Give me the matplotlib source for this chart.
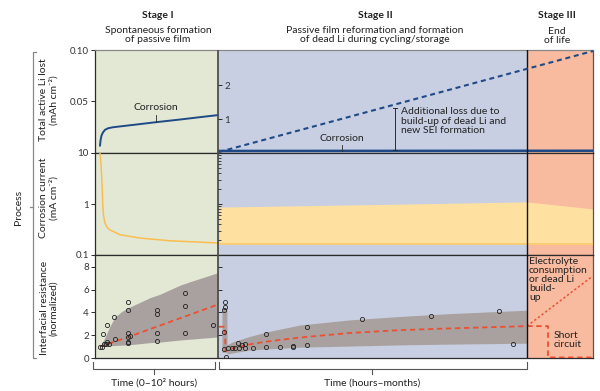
import matplotlib
matplotlib.use("Agg")
import matplotlib.pyplot as plt
from matplotlib.lines import Line2D
from matplotlib.ticker import LogLocator, NullLocator, NullFormatter, FixedLocator
import numpy as np

plt.rcParams['font.family'] = ['Lato', 'DejaVu Sans']

# ---------------- data (time in arbitrary units; stage I 0-123, II 123-432, III 432-498)
stage_edges = [0, 123, 432, 498]
stage_colors = ['#e2e8d4', '#c8cfe2', '#f9bba0']

# top row: total active Li lost (mAh cm-2)
corr1_t = [5, 5.5, 6.5, 8, 10, 13, 18, 25, 40, 60, 85, 105, 123]
corr1_v = [0.007, 0.012, 0.017, 0.020, 0.0225, 0.024, 0.025, 0.0258, 0.0275, 0.0298, 0.0325, 0.0348, 0.0368]
corr2_t = [124, 498]
corr2_v = [0.002, 0.0022]
deadli_t = [124, 498]
deadli_v = [0.03, 3.0]   # right-hand scale

# middle row: corrosion current (mA cm-2)
icorr_t = [5, 6, 7, 7.7, 8.5, 10, 12, 15, 25, 45, 75, 123]
icorr_v = [10, 6, 2.6, 1.0, 0.6, 0.42, 0.35, 0.31, 0.25, 0.215, 0.19, 0.172]
band_t = [124, 200, 300, 432, 498]
band_top = [0.87, 0.92, 0.99, 1.1, 0.8]
band_bot = [0.164, 0.164, 0.164, 0.164, 0.164]

# bottom row: interfacial resistance (normalized)
g1_t = [5, 10, 15, 20, 27, 33, 55, 65, 85, 95, 123]
g1_up = [1.0, 1.8, 2.8, 3.6, 4.1, 4.4, 5.3, 5.6, 6.4, 6.7, 7.5]
g1_lo = [1.0, 1.05, 1.08, 1.1, 1.13, 1.15, 1.35, 1.4, 1.58, 1.65, 1.85]
r1_t = [5, 15, 35, 123]
r1_v = [1.0, 1.3, 1.9, 4.7]
s1_t = [5, 7, 9, 8, 11, 12, 12, 14, 20, 19, 33, 33, 33, 33, 33, 33, 35, 62, 62, 62, 62, 90, 90, 90, 118]
s1_v = [1.0, 1.0, 1.2, 2.1, 1.2, 1.4, 2.9, 1.2, 1.65, 3.6, 4.95, 4.2, 2.2, 1.85, 1.4, 1.3, 1.9, 4.2, 3.9, 2.2, 1.5, 5.7, 4.55, 2.2, 2.9]

g2_t = [127, 131.9, 132, 138, 155, 172, 205, 255, 305, 355, 432]
g2_up = [4.4, 4.4, 1.15, 1.43, 1.9, 2.3, 2.9, 3.35, 3.65, 3.9, 4.2]
g2_lo = [0.5, 0.5, 0.35, 0.45, 0.7, 0.8, 0.95, 1.05, 1.15, 1.22, 1.3]
r2_t = [124, 130, 130.5, 135, 155, 172, 205, 255, 305, 355, 432, 453, 453, 498]
r2_v = [2.75, 2.75, 0.6, 0.8, 1.2, 1.45, 1.8, 2.2, 2.45, 2.6, 2.8, 2.8, 0.05, 0.05]
r3_t = [432, 497]
r3_v = [2.8, 7.15]
s2_t = [130, 130, 129, 129, 129, 131, 133, 137, 140, 143, 144, 147, 150, 150, 158, 171, 171, 185, 198, 198, 212, 212, 267, 336, 404, 418]
s2_v = [4.95, 4.5, 4.2, 2.3, 0.8, 0.1, 0.85, 0.85, 0.9, 1.35, 0.9, 1.15, 1.2, 0.9, 0.9, 2.1, 0.95, 1.0, 1.05, 0.95, 1.15, 2.7, 3.4, 3.65, 4.15, 1.23]

# ---------------- figure
W, H = 600, 391
fig = plt.figure(figsize=(6.0, 3.91), dpi=100)

def fx(px):
    return px / W

def fy(py):
    return 1 - py / H

X0, X1, XB = 95, 593, 218
rows = [(50, 153), (153, 255), (255, 358)]
DARK = '#2b2b2b'
BLUE = '#1f4a87'
ORANGE = '#fbbd4f'
YELLOW = '#fee1a0'
GRAY = '#a9a19f'
RED = '#eb5032'

axes = []
subaxes = []
for (top, bot) in rows:
    ax = fig.add_axes([fx(X0), fy(bot), fx(X1 - X0), (bot - top) / H])
    ax.set_xlim(stage_edges[0], stage_edges[-1])
    for i in range(3):
        ax.axvspan(stage_edges[i], stage_edges[i + 1], color=stage_colors[i], lw=0, zorder=0)
    ax.axvline(stage_edges[1], color='#505050', lw=1.3, zorder=6)
    ax.axvline(stage_edges[2], color='#111111', lw=1.0, zorder=6)
    ax.set_xticks([])
    for s in ax.spines.values():
        s.set_color(DARK)
        s.set_linewidth(0.9)
    ax.spines['right'].set_color('#555555')
    ax.tick_params(axis='y', direction='out', length=3, width=0.7, color=DARK,
                   labelsize=7, labelcolor='#333333', pad=1.5)
    axes.append(ax)
    sub = fig.add_axes([fx(XB), fy(bot), fx(X1 - XB), (bot - top) / H])
    sub.patch.set_visible(False)
    for k in ['top', 'right', 'bottom', 'left']:
        sub.spines[k].set_visible(False)
    sub.set_xlim(123, 498)
    sub.set_xticks([])
    sub.tick_params(axis='y', direction='in', length=3, width=0.7, color=DARK,
                    labelsize=7, labelcolor='#333333')
    subaxes.append(sub)

ax1, ax2, ax3 = axes
sb1, sb2, sb3 = subaxes
axes[0].spines['top'].set_color('#888888')

# ---- top row
ax1.set_ylim(0, 0.1)
ax1.set_yticks([0, 0.05, 0.10])
ax1.set_yticklabels(['', '0.05', '0.10'])
ax1.plot(corr1_t, corr1_v, color=BLUE, lw=1.4, zorder=5, solid_capstyle='round')
ax1.plot(corr2_t, corr2_v, color=BLUE, lw=1.8, zorder=5)
ax1.plot([61, 61], [0.0305, 0.037], color=DARK, lw=0.6, zorder=5)
ax1.text(61, 0.0437, 'Corrosion', ha='center', va='center', fontsize=7.5, color='#222222')
ax1.plot([247, 247], [0.0022, 0.0078], color=DARK, lw=0.6, zorder=5)
ax1.text(247, 0.0136, 'Corrosion', ha='center', va='center', fontsize=7.5, color='#222222')
ax1.plot([300, 300], [0.003, 0.0437], color=DARK, lw=0.7, zorder=5)
ax1.plot([298, 302], [0.003, 0.003], color=DARK, lw=0.7, zorder=5)
ax1.plot([298, 302], [0.0437, 0.0437], color=DARK, lw=0.7, zorder=5)
ax1.text(306, 0.0445, 'Additional loss due to\nbuild-up of dead Li and\nnew SEI formation',
         ha='left', va='top', fontsize=7.5, color='#222222', linespacing=1.05)

sb1.set_ylim(0, 3.03)
sb1.set_yticks([0, 1, 2])
sb1.set_yticklabels(['', '1', '2'])
sb1.tick_params(axis='y', pad=-8.5)
sb1.plot(deadli_t, deadli_v, color=BLUE, lw=1.5, dashes=(2.4, 1.8), zorder=5, clip_on=False)

# ---- middle row
ax2.set_yscale('log')
ax2.set_ylim(0.1, 10)
ax2.yaxis.set_major_locator(FixedLocator([0.1, 1, 10]))
ax2.set_yticklabels(['0.1', '1', '10'])
ax2.yaxis.set_minor_locator(NullLocator())
ax2.plot(icorr_t, icorr_v, color=ORANGE, lw=1.1, zorder=5)
ax2.fill_between(band_t, band_bot, band_top, color=YELLOW, lw=0, zorder=2)
ax2.plot(band_t, band_bot, color='#fbc96a', lw=1.2, zorder=3)

sb2.set_yscale('log')
sb2.set_ylim(0.1, 10)
sb2.yaxis.set_major_locator(FixedLocator([0.1, 1, 10]))
sb2.yaxis.set_minor_locator(LogLocator(base=10, subs=np.arange(2, 10)))
sb2.yaxis.set_minor_formatter(NullFormatter())
sb2.tick_params(axis='y', which='both', labelleft=False, direction='in', color=DARK)
sb2.tick_params(axis='y', which='minor', length=2, width=0.6)

# ---- bottom row
ax3.set_ylim(0, 9.05)
ax3.set_yticks([0, 2, 4, 6, 8])
ax3.fill_between(g1_t, g1_lo, g1_up, color=GRAY, lw=0, zorder=2)
ax3.fill_between(g2_t, g2_lo, g2_up, color=GRAY, lw=0, zorder=2)
ax3.plot(r1_t, r1_v, color=RED, lw=1.3, dashes=(3, 2), zorder=4)
ax3.plot(r2_t, r2_v, color=RED, lw=1.3, dashes=(3, 2), zorder=4)
ax3.plot(r3_t, r3_v, color=RED, lw=1.1, dashes=(1.5, 1.5), zorder=4)
ax3.plot(s1_t, s1_v, ls='none', marker='o', ms=3.0, mfc='none', mec='#222222', mew=0.6, zorder=5)
ax3.plot(s2_t, s2_v, ls='none', marker='o', ms=3.0, mfc='none', mec='#222222', mew=0.6, zorder=5)
ax3.text(434, 8.85, 'Electrolyte\nconsumption\nor dead Li\nbuild-\nup', ha='left', va='top',
         fontsize=7.5, color='#222222', linespacing=1.0, zorder=7)
ax3.text(459, 2.35, 'Short\ncircuit', ha='left', va='top', fontsize=7.5, color='#222222',
         linespacing=1.0, zorder=7)

sb3.set_ylim(0, 9.05)
sb3.set_yticks([0, 2, 4, 6, 8])
sb3.tick_params(axis='y', labelleft=False)

# ---- time brackets below bottom row
tr = ax3.get_xaxis_transform()
hb = (358 - 255)
def fr(py):
    return -(py - 358) / hb
for (a, b, mid, lab) in [(-2, 120, 59, 'Time (0\u201310\u00b2 hours)'), (124, 432, 277, 'Time (hours\u2013months)')]:
    ax3.plot([a, a, b, b], [fr(362), fr(369), fr(369), fr(362)], color='#555555', lw=0.8,
             transform=tr, clip_on=False)
    ax3.plot([mid, mid], [fr(369), fr(374)], color='#555555', lw=0.8, transform=tr, clip_on=False)
    ax3.text(mid, fr(383), lab, transform=tr, ha='center', va='center', fontsize=7.5, color='#222222')

# ---- headings
fig.text(fx(158), fy(16), 'Stage I', ha='center', va='center', fontsize=7.5, fontweight='bold', color='#222222')
fig.text(fx(158), fy(35), 'Spontaneous formation\nof passive film', ha='center', va='center',
         fontsize=7.5, color='#222222', linespacing=1.05)
fig.text(fx(375), fy(16), 'Stage II', ha='center', va='center', fontsize=7.5, fontweight='bold', color='#222222')
fig.text(fx(375), fy(35), 'Passive film reformation and formation\nof dead Li during cycling/storage',
         ha='center', va='center', fontsize=7.5, color='#222222', linespacing=1.05)
fig.text(fx(557), fy(16), 'Stage III', ha='center', va='center', fontsize=7.5, fontweight='bold', color='#222222')
fig.text(fx(557), fy(36), 'End\nof life', ha='center', va='center', fontsize=7.5, color='#222222',
         linespacing=1.05)

# ---- y labels
fig.text(fx(49), fy(100), 'Total active Li lost\n(mAh cm\u207b\u00b2)', rotation=90, ha='center', va='center',
         fontsize=7.5, color='#222222', linespacing=1.1)
fig.text(fx(49), fy(198), 'Corrosion current\n(mA cm\u207b\u00b2)', rotation=90, ha='center', va='center',
         fontsize=7.5, color='#222222', linespacing=1.1)
fig.text(fx(49), fy(308), 'Interfacial resistance\n(normalized)', rotation=90, ha='center', va='center',
         fontsize=7.5, color='#222222', linespacing=1.1)

# ---- process bracket
bc = '#888888'
fig.add_artist(Line2D([fx(36), fx(33), fx(33), fx(36)], [fy(52), fy(52), fy(358), fy(358)],
                      color=bc, lw=0.9, transform=fig.transFigure))
fig.add_artist(Line2D([fx(30), fx(33)], [fy(207), fy(207)], color=bc, lw=0.9, transform=fig.transFigure))
fig.text(fx(19), fy(207), 'Process', rotation=90, ha='center', va='center', fontsize=7.5, color='#222222')

fig.savefig('out.png', dpi=100)
